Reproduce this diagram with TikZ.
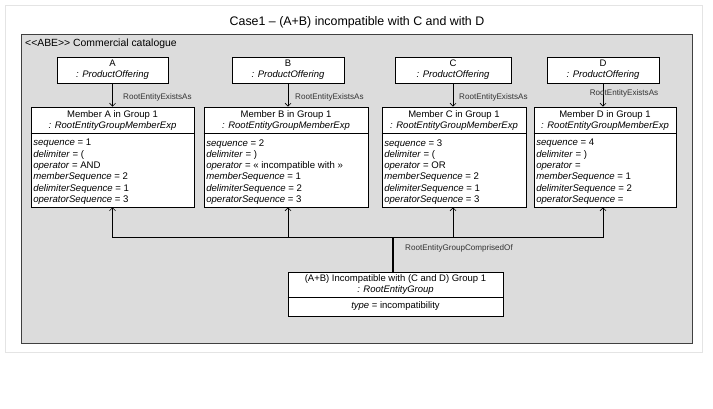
\documentclass[tikz,border=0pt]{standalone}
\usepackage{fontspec}
\setmainfont{Liberation Sans}
\usetikzlibrary{arrows.meta}

\definecolor{framefill}{HTML}{DCDCDC}
\definecolor{frameline}{HTML}{404040}
\definecolor{pageline}{HTML}{E4E4E4}
\definecolor{labelgray}{HTML}{333333}

\tikzset{
  umlbox/.style={draw=black, line width=0.8pt, fill=white, inner sep=0pt},
  pbox/.style={umlbox, align=center, font=\fontsize{9.5}{11}\selectfont},
  hdr/.style={inner sep=0pt, align=center, font=\fontsize{9.5}{11}\selectfont},
  attr/.style={inner sep=0pt, align=left, font=\fontsize{9.6}{11.3}\selectfont},
  rel/.style={inner sep=0pt, text=labelgray, font=\fontsize{8.1}{9}\selectfont},
  assoc/.style={draw=black, line width=0.6pt, -{Straight Barb[length=3pt,width=6pt]}},
  link/.style={draw=black, line width=0.6pt}
}

\begin{document}
\begin{tikzpicture}[x=1pt, y=-1pt]
  \useasboundingbox (0,0) rectangle (713,409);
  % page and package frame
  \draw[pageline, line width=0.8pt, fill=white] (5,5) rectangle (702,352);
  \node[font=\fontsize{12.4}{14}\selectfont, inner sep=0pt] (title) at (357,22) {Case1 – (A+B) incompatible with C and with D};
  \draw[frameline, line width=0.8pt, fill=framefill] (21,34) rectangle (692,343);
  \node[font=\fontsize{10.4}{12}\selectfont, inner sep=0pt, anchor=west] (pkg) at (25,44) {<{}<ABE>{}> Commercial catalogue};

  % product offerings
  \node[pbox, minimum width=111, minimum height=26] (pA) at (112.5,70) {A\\\textit{: ProductOffering}};
  \node[pbox, minimum width=112, minimum height=26] (pB) at (288,70) {B\\\textit{: ProductOffering}};
  \node[pbox, minimum width=116, minimum height=26] (pC) at (453,70) {C\\\textit{: ProductOffering}};
  \node[pbox, minimum width=112, minimum height=26] (pD) at (603,70) {D\\\textit{: ProductOffering}};

  % group members
  \node[umlbox, minimum width=163, minimum height=100] (mA) at (112.5,157) {};
  \node[umlbox, minimum width=164, minimum height=100] (mB) at (286,157) {};
  \node[umlbox, minimum width=144, minimum height=100] (mC) at (454,157) {};
  \node[umlbox, minimum width=142, minimum height=100] (mD) at (605,157) {};
  \foreach \m in {mA,mB,mC,mD}{
    \draw[line width=0.8pt] ([yshift=-27pt]\m.north west) -- ([yshift=-27pt]\m.north east);
  }
  \node[hdr] (mAh) at ([yshift=-13.5pt]mA.north) {Member A in Group 1\\\textit{: RootEntityGroupMemberExp}};
  \node[hdr] (mBh) at ([yshift=-13.5pt]mB.north) {Member B in Group 1\\\textit{: RootEntityGroupMemberExp}};
  \node[hdr] (mCh) at ([yshift=-13.5pt]mC.north) {Member C in Group 1\\\textit{: RootEntityGroupMemberExp}};
  \node[hdr] (mDh) at ([yshift=-13.5pt]mD.north) {Member D in Group 1\\\textit{: RootEntityGroupMemberExp}};

  \node[attr, anchor=north west] (mAa) at ([xshift=2.5pt,yshift=-32.5pt]mA.north west)
    {\textit{sequence} = 1\\\textit{delimiter} = (\\\textit{operator} = AND\\\textit{memberSequence} = 2\\\textit{delimiterSequence} = 1\\\textit{operatorSequence} = 3};
  \node[attr, anchor=north west] (mBa) at ([xshift=2.5pt,yshift=-32.5pt]mB.north west)
    {\textit{sequence} = 2\\\textit{delimiter} = )\\\textit{operator} = « incompatible with »\\\textit{memberSequence} = 1\\\textit{delimiterSequence} = 2\\\textit{operatorSequence} = 3};
  \node[attr, anchor=north west] (mCa) at ([xshift=2.5pt,yshift=-32.5pt]mC.north west)
    {\textit{sequence} = 3\\\textit{delimiter} = (\\\textit{operator} = OR\\\textit{memberSequence} = 2\\\textit{delimiterSequence} = 1\\\textit{operatorSequence} = 3};
  \node[attr, anchor=north west] (mDa) at ([xshift=2.5pt,yshift=-32.5pt]mD.north west)
    {\textit{sequence} = 4\\\textit{delimiter} = )\\\textit{operator} =\\\textit{memberSequence} = 1\\\textit{delimiterSequence} = 2\\\textit{operatorSequence} =};

  % member-to-offering associations
  \draw[assoc] (pA.south) -- (pA.south |- mA.north);
  \draw[assoc] (pB.south) -- (pB.south |- mB.north);
  \draw[assoc] (pC.south) -- (pC.south |- mC.north);
  \draw[assoc] (pD.south) -- (pD.south |- mD.north);
  \node[rel, anchor=west] (lA) at (123,97) {RootEntityExistsAs};
  \node[rel, anchor=west] (lB) at (295,97) {RootEntityExistsAs};
  \node[rel, anchor=west] (lC) at (459,97) {RootEntityExistsAs};
  \node[rel] (lD) at (624,93) {RootEntityExistsAs};

  % the group
  \node[umlbox, minimum width=215, minimum height=44] (g) at (395.5,294) {};
  \draw[line width=0.8pt] ([yshift=-26pt]g.north west) -- ([yshift=-26pt]g.north east);
  \node[hdr] (gh) at ([yshift=-12.5pt]g.north) {(A+B) Incompatible with (C and D) Group 1\\\textit{: RootEntityGroup}};
  \node[hdr] (ga) at ([yshift=-34.5pt]g.north) {\textit{type} = incompatibility};

  % group composition
  \coordinate (bus) at (393,237);
  \draw[link, line width=1.3pt] (g.north -| bus) -- (bus);
  \draw[assoc] (bus) -| (pA.south |- mA.south);
  \draw[assoc] (bus) -| (pB.south |- mB.south);
  \draw[assoc] (bus) -| (pC.south |- mC.south);
  \draw[assoc] (bus) -| (pD.south |- mD.south);
  \node[rel, anchor=west] (lG) at (405,248) {RootEntityGroupComprisedOf};
\end{tikzpicture}
\end{document}
